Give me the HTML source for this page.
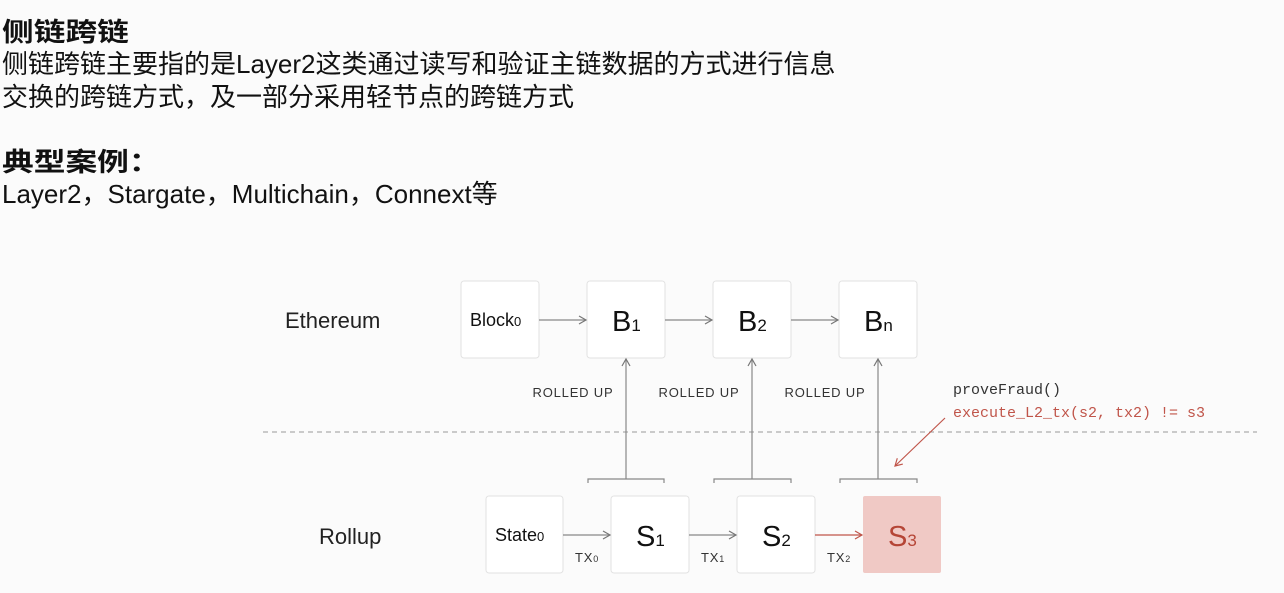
<!DOCTYPE html>
<html><head><meta charset="utf-8"><style>
body{margin:0;width:1284px;height:593px;background:#fbfbfb;overflow:hidden;position:relative;font-family:"Liberation Sans","Noto Sans CJK SC",sans-serif;color:#111}
.t{position:absolute;left:2px;font-size:26px;line-height:32px;white-space:nowrap;transform-origin:0 50%}
.b{font-weight:bold;transform:scaleX(1.22)}
</style></head><body>
<div class="t b" style="top:16px">侧链跨链</div>
<div class="t" style="top:48px">侧链跨链主要指的是Layer2这类通过读写和验证主链数据的方式进行信息</div>
<div class="t" style="top:81px">交换的跨链方式，及一部分采用轻节点的跨链方式</div>
<div class="t b" style="top:146px">典型案例：</div>
<div class="t" style="top:178px">Layer2，Stargate，Multichain，Connext等</div>
<svg width="1284" height="593" style="position:absolute;left:0;top:0" font-family="Liberation Sans, sans-serif">
<defs>
<marker id="a" markerWidth="10" markerHeight="10" refX="8" refY="5" orient="auto" markerUnits="userSpaceOnUse"><path d="M1,1 L8,5 L1,9" fill="none" stroke="#777" stroke-width="1.2"/></marker>
<marker id="r" markerWidth="10" markerHeight="10" refX="8" refY="5" orient="auto" markerUnits="userSpaceOnUse"><path d="M1,1 L8,5 L1,9" fill="none" stroke="#c0554a" stroke-width="1.2"/></marker>
</defs>
<line x1="263" y1="432" x2="1257" y2="432" stroke="#999" stroke-dasharray="5,4"/>
<text x="285" y="328" font-size="22" fill="#222">Ethereum</text>
<text x="319" y="544" font-size="22" fill="#222">Rollup</text>
<g fill="#fff" stroke="#e2e2e2">
<rect x="461" y="281" width="78" height="77" rx="3"/>
<rect x="587" y="281" width="78" height="77" rx="3"/>
<rect x="713" y="281" width="78" height="77" rx="3"/>
<rect x="839" y="281" width="78" height="77" rx="3"/>
<rect x="486" y="496" width="77" height="77" rx="3"/>
<rect x="611" y="496" width="78" height="77" rx="3"/>
<rect x="737" y="496" width="78" height="77" rx="3"/>
</g>
<rect x="863" y="496" width="78" height="77" rx="2" fill="#f0c9c5"/>
<g font-size="18" fill="#111">
<text x="470" y="326">Block<tspan font-size="13">0</tspan></text>
<text x="495" y="541">State<tspan font-size="13">0</tspan></text>
</g>
<g font-size="29" fill="#111">
<text x="612" y="331">B<tspan font-size="17">1</tspan></text>
<text x="738" y="331">B<tspan font-size="17">2</tspan></text>
<text x="864" y="331">B<tspan font-size="17">n</tspan></text>
<text x="636" y="546">S<tspan font-size="17">1</tspan></text>
<text x="762" y="546">S<tspan font-size="17">2</tspan></text>
<text x="888" y="546" fill="#b54536">S<tspan font-size="17">3</tspan></text>
</g>
<g stroke="#888" stroke-width="1.2" fill="none">
<line x1="539" y1="320" x2="586" y2="320" marker-end="url(#a)"/>
<line x1="665" y1="320" x2="712" y2="320" marker-end="url(#a)"/>
<line x1="791" y1="320" x2="838" y2="320" marker-end="url(#a)"/>
<line x1="563" y1="535" x2="610" y2="535" marker-end="url(#a)"/>
<line x1="689" y1="535" x2="736" y2="535" marker-end="url(#a)"/>
<line x1="626" y1="479" x2="626" y2="359" marker-end="url(#a)"/>
<line x1="752" y1="479" x2="752" y2="359" marker-end="url(#a)"/>
<line x1="878" y1="479" x2="878" y2="359" marker-end="url(#a)"/>
<path d="M588,483 V479 H664 V483"/>
<path d="M714,483 V479 H791 V483"/>
<path d="M840,483 V479 H917 V483"/>
</g>
<line x1="815" y1="535" x2="862" y2="535" stroke="#c0554a" stroke-width="1.2" marker-end="url(#r)"/>
<line x1="945" y1="418" x2="895" y2="466" stroke="#c0554a" stroke-width="1.2" marker-end="url(#r)"/>
<g font-size="13" fill="#333" letter-spacing="0.8">
<text x="573" y="397" text-anchor="middle">ROLLED UP</text>
<text x="699" y="397" text-anchor="middle">ROLLED UP</text>
<text x="825" y="397" text-anchor="middle">ROLLED UP</text>
<text x="575" y="562">TX<tspan font-size="9">0</tspan></text>
<text x="701" y="562">TX<tspan font-size="9">1</tspan></text>
<text x="827" y="562">TX<tspan font-size="9">2</tspan></text>
</g>
<text x="953" y="394" font-family="Liberation Mono, monospace" font-size="15" fill="#333">proveFraud()</text>
<text x="953" y="417" font-family="Liberation Mono, monospace" font-size="15" fill="#c0554a">execute_L2_tx(s2, tx2) != s3</text>
</svg>
</body></html>
